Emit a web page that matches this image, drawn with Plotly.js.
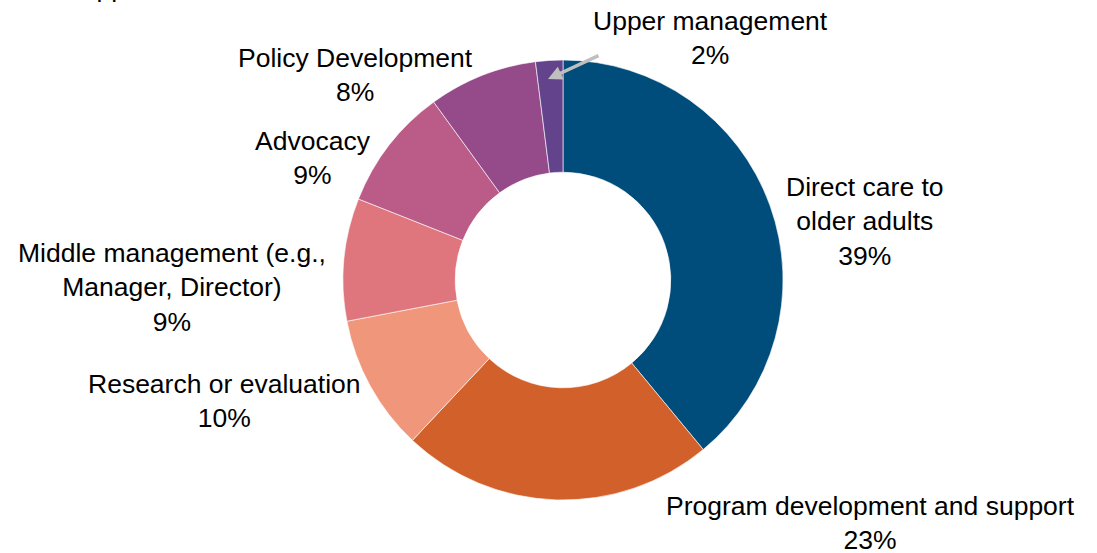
<!DOCTYPE html>
<html>
<head>
<meta charset="utf-8">
<script src="https://cdn.plot.ly/plotly-3.0.1.min.js"></script>
<style>html,body{margin:0;padding:0;background:#fff;}#chart{width:1097px;height:553px;}</style>
</head>
<body>
<div id="chart"></div>
<script>
const categories = ["Direct care to older adults", "Program development and support", "Research or evaluation", "Middle management (e.g., Manager, Director)", "Advocacy", "Policy Development", "Upper management"];
const values = [39, 23, 10, 9, 9, 8, 2];
const labelTexts = ["Direct care to<br>older adults<br>39%", "Program development and support<br>23%", "Research or evaluation<br>10%", "Middle management (e.g.,<br>Manager, Director)<br>9%", "Advocacy<br>9%", "Policy Development<br>8%", "Upper management<br>2%"];
const colors = ["#004C7B", "#D2602A", "#F0977B", "#DF767E", "#BB5C88", "#954A8A", "#63448C"];

const W = 1097, H = 553;
const px = x => x / W;
const py = y => (H - y) / H;

// label centre positions (pixels)
const labelPos = [[865, 221], [870, 523], [224, 401], [172, 287], [313, 158], [355, 75], [710, 38]];

const annotations = labelTexts.map((t, i) => ({
  text: t, x: px(labelPos[i][0]), y: py(labelPos[i][1]), xref: 'paper', yref: 'paper',
  xanchor: 'center', yanchor: 'middle', showarrow: false, align: 'center',
  font: {family: 'Liberation Sans, Arial, sans-serif', size: 26.5, color: '#000'}
}));
annotations.push({
  text: '', x: px(548), y: py(79), xref: 'paper', yref: 'paper',
  showarrow: true, ax: 52, ay: -24, arrowcolor: '#BFBFBF', arrowwidth: 3.5, arrowhead: 2, arrowsize: 0.8
});
annotations.push({
  text: 'Support', x: px(62), y: py(5), xref: 'paper', yref: 'paper', xanchor: 'left', yanchor: 'bottom',
  showarrow: false, font: {family: 'Liberation Sans, Arial, sans-serif', size: 26.5, color: '#000'}
});

const data = [{
  type: 'pie', labels: categories, values: values, hole: 0.49, sort: false,
  direction: 'clockwise', rotation: 0, textinfo: 'none', hoverinfo: 'label+percent',
  marker: {colors: colors, line: {color: 'rgba(255,255,255,0.6)', width: 1}},
  domain: {x: [px(343), px(783)], y: [py(500), py(60)]}
}];

const layout = {
  width: W, height: H, margin: {l: 0, r: 0, t: 0, b: 0}, showlegend: false,
  paper_bgcolor: '#fff', annotations: annotations
};
Plotly.newPlot('chart', data, layout, {displayModeBar: false, staticPlot: true});
</script>
</body>
</html>
